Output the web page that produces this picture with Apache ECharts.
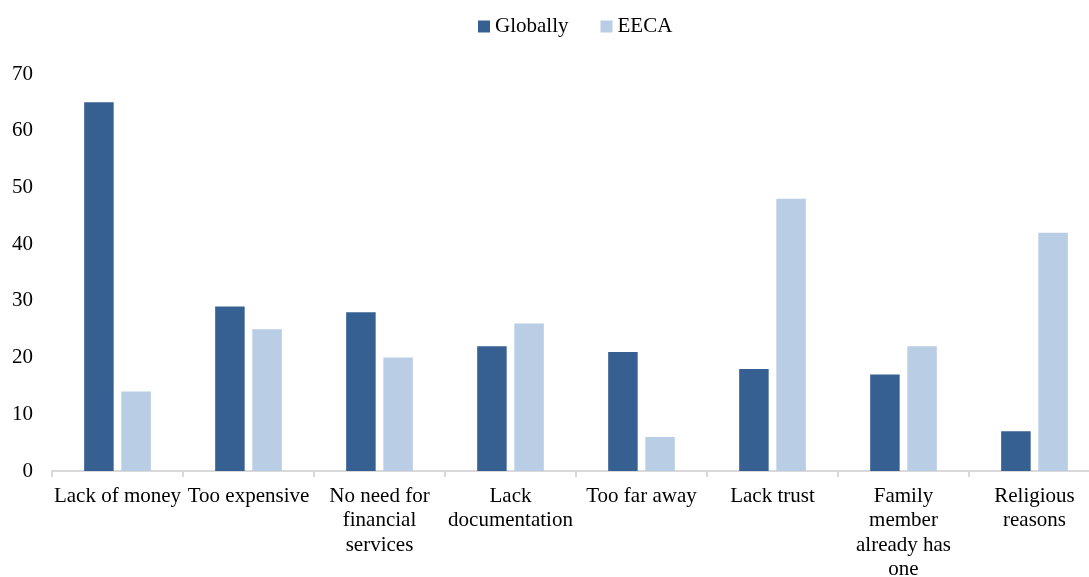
<!DOCTYPE html>
<html><head><meta charset="utf-8">
<script src="https://cdn.jsdelivr.net/npm/echarts@6/dist/echarts.min.js"></script>
<style>html,body{margin:0;padding:0;background:#fff}#c{width:1089px;height:577px}</style>
</head><body><div id="c"></div>
<script>
const categories = ["Lack of money","Too expensive","No need for\nfinancial\nservices","Lack\ndocumentation","Too far away","Lack trust","Family\nmember\nalready has\none","Religious\nreasons"];
const globally = [65,29,28,22,21,18,17,7];
const eeca = [14,25,20,26,6,48,22,42];
const seriesNames = ["Globally","EECA"];
const chart = echarts.init(document.getElementById('c'));
const font = "'Liberation Serif','Times New Roman',serif";
chart.setOption({
  animation:false,
  textStyle:{fontFamily:font},
  legend:{top:11,left:473,itemWidth:12,itemHeight:12,itemGap:32,icon:'rect',
    textStyle:{fontFamily:font,fontSize:21,color:'#000'},data:seriesNames},
  grid:{left:52,top:74,width:1048,height:397,containLabel:false,outerBoundsMode:'none'},
  xAxis:{type:'category',data:categories,
    axisLine:{lineStyle:{color:'#d9d9d9',width:2}},
    axisTick:{show:true,length:6,lineStyle:{color:'#d9d9d9',width:2}},
    axisLabel:{interval:0,fontFamily:font,fontSize:21,color:'#000',lineHeight:24.5,margin:13}},
  yAxis:{type:'value',min:0,max:70,interval:10,
    axisLine:{show:false},axisTick:{show:false},splitLine:{show:false},
    axisLabel:{fontFamily:font,fontSize:21,color:'#000',margin:19}},
  series:[
    {name:seriesNames[0],type:'bar',data:globally,barWidth:29.5,barGap:'26%',itemStyle:{color:'#366092'}},
    {name:seriesNames[1],type:'bar',data:eeca,barWidth:29.5,barGap:'26%',itemStyle:{color:'#b9cde5'}}
  ]
});
</script></body></html>
